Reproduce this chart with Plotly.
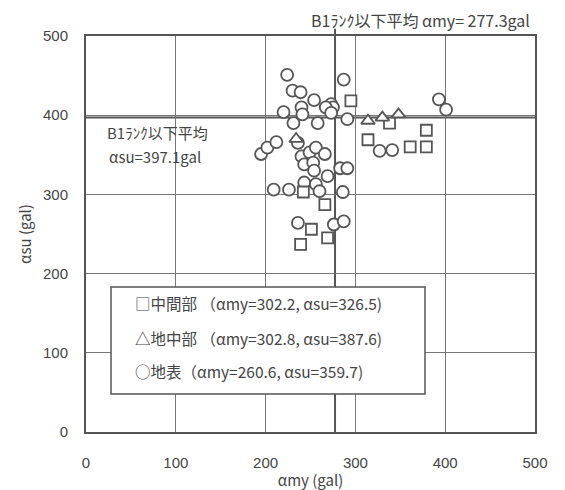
import plotly.graph_objects as go

# 中間部 (squares)
mid_x = [295, 338, 314, 361, 379, 379, 242, 266, 251, 269, 239]
mid_y = [418, 390, 369, 360, 381, 360, 303, 287, 256, 245, 237]

# 地中部 (triangles)
und_x = [314, 330, 348, 234]
und_y = [393, 397, 401, 370]

# 地表 (circles)
sur_x = [224, 287, 230, 239, 254, 273, 275, 267, 240, 220, 241, 273, 291, 231, 258,
         195, 202, 212, 236, 240, 249, 256, 266, 243, 253, 254, 269, 283, 291,
         209, 226, 243, 256, 260, 286, 236, 276, 287, 327, 341, 393, 401]
sur_y = [451, 445, 431, 429, 419, 414, 410, 410, 410, 404, 401, 403, 395, 390, 390,
         351, 359, 366, 365, 348, 353, 359, 351, 338, 340, 330, 323, 333, 333,
         306, 306, 315, 313, 304, 303, 264, 262, 266, 355, 356, 420, 407]

mean_my = 277.3
mean_su = 397.1
legend_lines = [
    "□中間部 （αmy=302.2, αsu=326.5)",
    "△地中部 （αmy=302.8, αsu=387.6)",
    "○地表（αmy=260.6, αsu=359.7)",
]
x_ticks = [0, 100, 200, 300, 400, 500]
y_ticks = [0, 100, 200, 300, 400, 500]

GRAY = "#555555"
TXT = "#444444"
JP = "Noto Sans CJK JP"
LAT = "Liberation Sans, Arial"

fig = go.Figure()
mk_line = dict(color=GRAY, width=1.8)
fig.add_trace(go.Scatter(x=sur_x, y=sur_y, mode="markers", name="地表",
                         marker=dict(symbol="circle", size=12, color="white", line=mk_line)))
fig.add_trace(go.Scatter(x=mid_x, y=mid_y, mode="markers", name="中間部",
                         marker=dict(symbol="square", size=11, color="white", line=mk_line)))
fig.add_trace(go.Scatter(x=und_x, y=und_y, mode="markers", name="地中部",
                         marker=dict(symbol="triangle-up", size=12, color="white", line=mk_line)))

shapes = [
    dict(type="line", xref="x", yref="paper", x0=mean_my, x1=mean_my, y0=0, y1=1.018,
         line=dict(color=GRAY, width=2), layer="between"),
    dict(type="line", xref="paper", yref="y", x0=0, x1=1, y0=mean_su, y1=mean_su,
         line=dict(color=GRAY, width=2), layer="between"),
    dict(type="rect", xref="paper", yref="paper", x0=0.0557, x1=0.755, y0=0.096, y1=0.366,
         fillcolor="white", line=dict(color=GRAY, width=1.5), layer="above"),
]

annotations = [
    dict(text=f"B1ﾗﾝｸ以下平均 αmy= {mean_my}gal", xref="paper", yref="paper",
         x=0.745, y=1.040, xanchor="center", yanchor="middle", showarrow=False,
         font=dict(family=JP, size=16, color=TXT)),
    dict(text="B1ﾗﾝｸ以下平均", xref="paper", yref="paper",
         x=0.042, y=0.757, xanchor="left", yanchor="middle", showarrow=False,
         font=dict(family=JP, size=15, color=TXT)),
    dict(text=f"αsu={mean_su}gal", xref="paper", yref="paper",
         x=0.047, y=0.6965, xanchor="left", yanchor="middle", showarrow=False,
         font=dict(family=JP, size=15, color=TXT)),
]
for txt, yy in zip(legend_lines, [0.3258, 0.2374, 0.154]):
    annotations.append(dict(text=txt, xref="paper", yref="paper", x=0.1047, y=yy,
                            xanchor="left", yanchor="middle", showarrow=False,
                            font=dict(family=JP, size=15.5, color=TXT)))

axis_common = dict(range=[0, 500], showgrid=True, gridcolor="#777777", gridwidth=1,
                   zeroline=False, showline=True, linecolor=GRAY, linewidth=2, mirror=True,
                   ticks="outside", tickcolor="rgba(0,0,0,0)",
                   tickfont=dict(family=LAT, size=15, color=TXT))

# page body adds an 8px offset, so the figure is 8px smaller and margins shifted
fig.update_layout(
    width=557, height=482,
    margin=dict(l=78, r=30, t=28, b=58),
    plot_bgcolor="white", paper_bgcolor="white",
    showlegend=False,
    xaxis=dict(axis_common, tickvals=x_ticks, ticklen=16,
               title=dict(text="αmy (gal)", standoff=0, font=dict(family=JP, size=15, color=TXT))),
    yaxis=dict(axis_common, tickvals=y_ticks, ticklen=13,
               title=dict(text="αsu (gal)", standoff=8, font=dict(family=JP, size=15, color=TXT))),
    shapes=shapes,
    annotations=annotations,
)
fig.update_xaxes(automargin=False)
fig.update_yaxes(automargin=False)

fig.write_html("out.html")
